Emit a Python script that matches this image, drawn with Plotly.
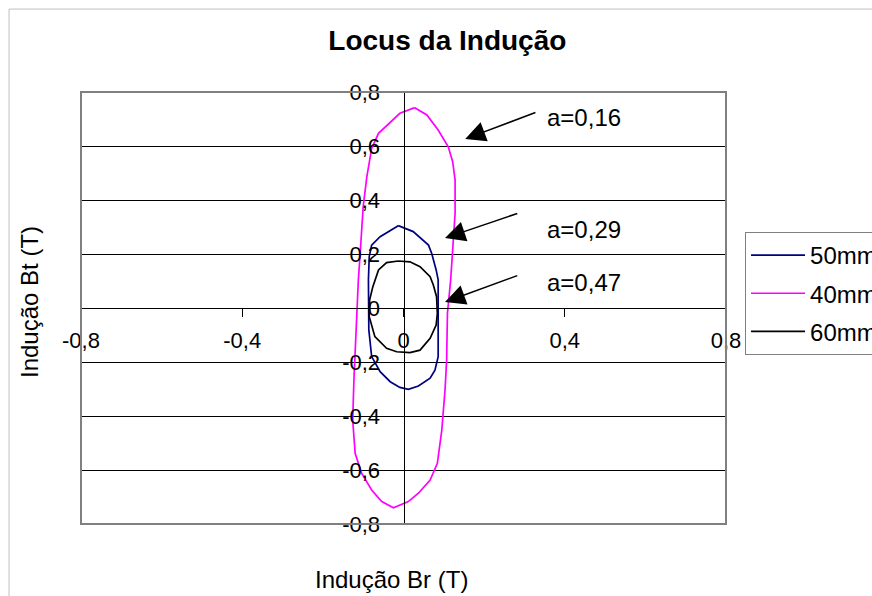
import plotly.graph_objects as go

# Locus of the air-gap induction (Br, Bt) for three magnet lengths
series_names = ["50mm", "40mm", "60mm"]
series_colors = ["#000080", "#FF00FF", "#000000"]

br_50 = [-0.013, 0.024, 0.062, 0.070, 0.081, 0.086, 0.086, 0.086, 0.078, 0.066, 0.037, 0.012,
         -0.009, -0.033, -0.058, -0.079, -0.086, -0.087, -0.085, -0.079, -0.058, -0.013]
bt_50 = [0.305, 0.283, 0.233, 0.202, 0.141, 0.104, -0.020, -0.180, -0.230, -0.260, -0.289, -0.301,
         -0.294, -0.273, -0.236, -0.180, -0.081, 0.104, 0.190, 0.233, 0.264, 0.305]

br_40 = [0.028, 0.058, 0.086, 0.111, 0.122, 0.128, 0.128, 0.122, 0.117, 0.109, 0.107, 0.103,
         0.095, 0.084, 0.066, 0.037, 0.012, -0.025, -0.054, -0.079, -0.104, -0.120, -0.126,
         -0.123, -0.118, -0.112, -0.108, -0.100, -0.091, -0.079, -0.062, -0.009, 0.028]
bt_40 = [0.742, 0.715, 0.659, 0.597, 0.542, 0.474, 0.351, 0.227, 0.104, -0.020, -0.193, -0.304,
         -0.452, -0.575, -0.637, -0.686, -0.717, -0.740, -0.717, -0.674, -0.612, -0.538, -0.415,
         -0.267, -0.081, 0.104, 0.190, 0.375, 0.486, 0.591, 0.647, 0.721, 0.742]

br_60 = [-0.013, 0.016, 0.041, 0.066, 0.074, 0.082, 0.084, 0.081, 0.066, 0.041, 0.016, -0.017,
         -0.042, -0.071, -0.085, -0.084, -0.076, -0.071, -0.062, -0.042, -0.013]
bt_60 = [0.174, 0.171, 0.153, 0.116, 0.085, 0.042, -0.020, -0.063, -0.112, -0.156, -0.165, -0.162,
         -0.149, -0.106, -0.032, 0.030, 0.079, 0.104, 0.141, 0.168, 0.174]

x_tickvals = [-0.8, -0.4, 0, 0.4, 0.8]
x_ticktext = ["-0,8", "-0,4", "0", "0,4", "0,8"]
y_tickvals = [-0.8, -0.6, -0.4, -0.2, 0, 0.2, 0.4, 0.6, 0.8]
y_ticktext = ["-0,8", "-0,6", "-0,4", "-0,2", "0", "0,2", "0,4", "0,6", "0,8"]

# callouts: arrow tip (x, y), arrow tail (x, y), label
callout_labels = ["a=0,16", "a=0,29", "a=0,47"]
callout_tip_x = [0.153, 0.103, 0.103]
callout_tip_y = [0.626, 0.259, 0.022]
callout_tail_x = [0.331, 0.286, 0.286]
callout_tail_y = [0.726, 0.352, 0.122]
callout_text_y = [0.704, 0.289, 0.096]
callout_text_x = 0.351

FONT = "Liberation Sans, Arial, sans-serif"

fig = go.Figure()
for i, (name, color, xs, ys) in enumerate(zip(series_names, series_colors,
                                               [br_50, br_40, br_60], [bt_50, bt_40, bt_60])):
    fig.add_trace(go.Scatter(
        x=xs, y=ys, mode="lines", name=name, legendgroup=name,
        line=dict(color=color, width=1.7),
    ))

annotations = []
for lab, tx, ty, ax, ay, ly in zip(callout_labels, callout_tip_x, callout_tip_y,
                                    callout_tail_x, callout_tail_y, callout_text_y):
    annotations.append(dict(
        x=tx, y=ty, ax=ax, ay=ay, xref="x", yref="y", axref="x", ayref="y",
        text="", showarrow=True, arrowhead=2, arrowsize=2.7, arrowwidth=1.5,
        arrowcolor="black", standoff=0,
    ))
    annotations.append(dict(
        x=callout_text_x, y=ly, xref="x", yref="y", text=lab, showarrow=False,
        xanchor="left", yanchor="middle", font=dict(family=FONT, size=24, color="black"),
    ))

# axis titles
annotations.append(dict(
    x=-0.079, y=0.514, xref="paper", yref="paper", text="Indução Bt (T)", textangle=-90,
    showarrow=False, xanchor="center", yanchor="middle",
    font=dict(family=FONT, size=24, color="black"),
))
annotations.append(dict(
    x=0.481, y=-0.1296, xref="paper", yref="paper", text="Indução Br (T)",
    showarrow=False, xanchor="center", yanchor="middle",
    font=dict(family=FONT, size=24, color="black"),
))

shapes = [
    # chart area border
    dict(type="rect", xref="paper", yref="paper", x0=-0.1116, x1=1.6, y0=-0.5, y1=1.192,
         line=dict(color="#c0c0c0", width=1), layer="below"),
    # plot area frame
    dict(type="rect", xref="paper", yref="paper", x0=0, x1=1, y0=0, y1=1,
         line=dict(color="#808080", width=2)),
]

fig.update_layout(
    width=872, height=596,
    margin=dict(l=81, r=146, t=92, b=72, autoexpand=False),
    paper_bgcolor="white", plot_bgcolor="white",
    font=dict(family=FONT, size=22, color="black"),
    title=dict(text="<b>Locus da Indução</b>", x=0.513, xref="container", xanchor="center",
               y=0.933, yref="container", yanchor="middle",
               font=dict(family=FONT, size=28, color="black")),
    xaxis=dict(range=[-0.8, 0.8], anchor="free", position=0.5, showgrid=False, zeroline=False,
               showline=True, linecolor="black", linewidth=1,
               ticks="outside", ticklen=8, tickcolor="black", tickwidth=1,
               tickvals=x_tickvals, ticktext=x_ticktext, ticklabelstandoff=5,
               tickfont=dict(size=22)),
    yaxis=dict(range=[-0.8, 0.8], anchor="free", position=0.5, showgrid=True,
               gridcolor="black", gridwidth=1, zeroline=False,
               showline=True, linecolor="black", linewidth=1,
               ticks="outside", ticklen=8, tickcolor="black", tickwidth=1,
               tickvals=y_tickvals, ticktext=y_ticktext, ticklabelstandoff=11,
               tickfont=dict(size=22)),
    legend=dict(x=1.0295, y=0.676, xanchor="left", yanchor="top",
                bordercolor="#808080", borderwidth=1, bgcolor="white",
                traceorder="grouped", tracegroupgap=4, itemwidth=54,
                font=dict(family=FONT, size=24, color="black")),
    showlegend=True,
    annotations=annotations,
    shapes=shapes,
)

fig.write_html("out.html")
